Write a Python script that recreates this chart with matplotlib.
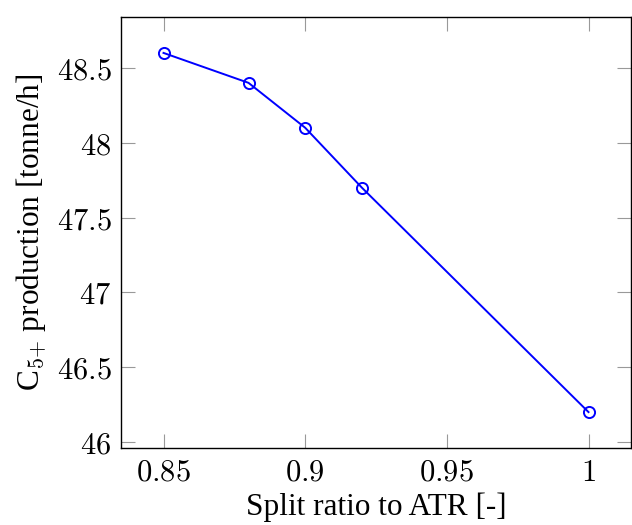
import matplotlib
matplotlib.use("Agg")
import matplotlib.pyplot as plt

split_ratio = [0.85, 0.88, 0.90, 0.92, 1.00]
c5_production = [48.6, 48.4, 48.1, 47.7, 46.2]
x_ticks = [0.85, 0.9, 0.95, 1.0]
x_tick_labels = ["0.85", "0.9", "0.95", "1"]
y_ticks = [46, 46.5, 47, 47.5, 48, 48.5]
y_tick_labels = ["46", "46.5", "47", "47.5", "48", "48.5"]

plt.rcParams['mathtext.fontset'] = 'cm'

fig = plt.figure(figsize=(6.32, 5.25), dpi=100)
ax = fig.add_axes([121/632, 1 - 448/525, (631 - 121)/632, (448 - 17)/525])

ax.plot(split_ratio, c5_production, color=(0, 0, 1), lw=1.4, marker='o',
        markersize=8, markerfacecolor='none', markeredgecolor=(0, 0, 1), markeredgewidth=1.4)

ax.set_xlim(0.835, 1.015)
ax.set_ylim(45.96, 48.84)
ax.set_xticks(x_ticks)
ax.set_xticklabels([f"${t}$" for t in x_tick_labels])
ax.set_yticks(y_ticks)
ax.set_yticklabels([f"${t}$" for t in y_tick_labels])
ax.tick_params(direction='in', length=10, width=0.8, color='#999999',
               top=True, right=True, labelsize=22, pad=7)
for s in ax.spines.values():
    s.set_linewidth(1.0)

ax.set_xlabel("Split ratio to ATR [-]", fontsize=22.5, family='Liberation Serif', labelpad=4)
ax.set_ylabel(r"C$_{5{+}}$ production [tonne/h]", fontsize=22.5, family='Liberation Serif', labelpad=6)

fig.savefig("out.png", dpi=100)
